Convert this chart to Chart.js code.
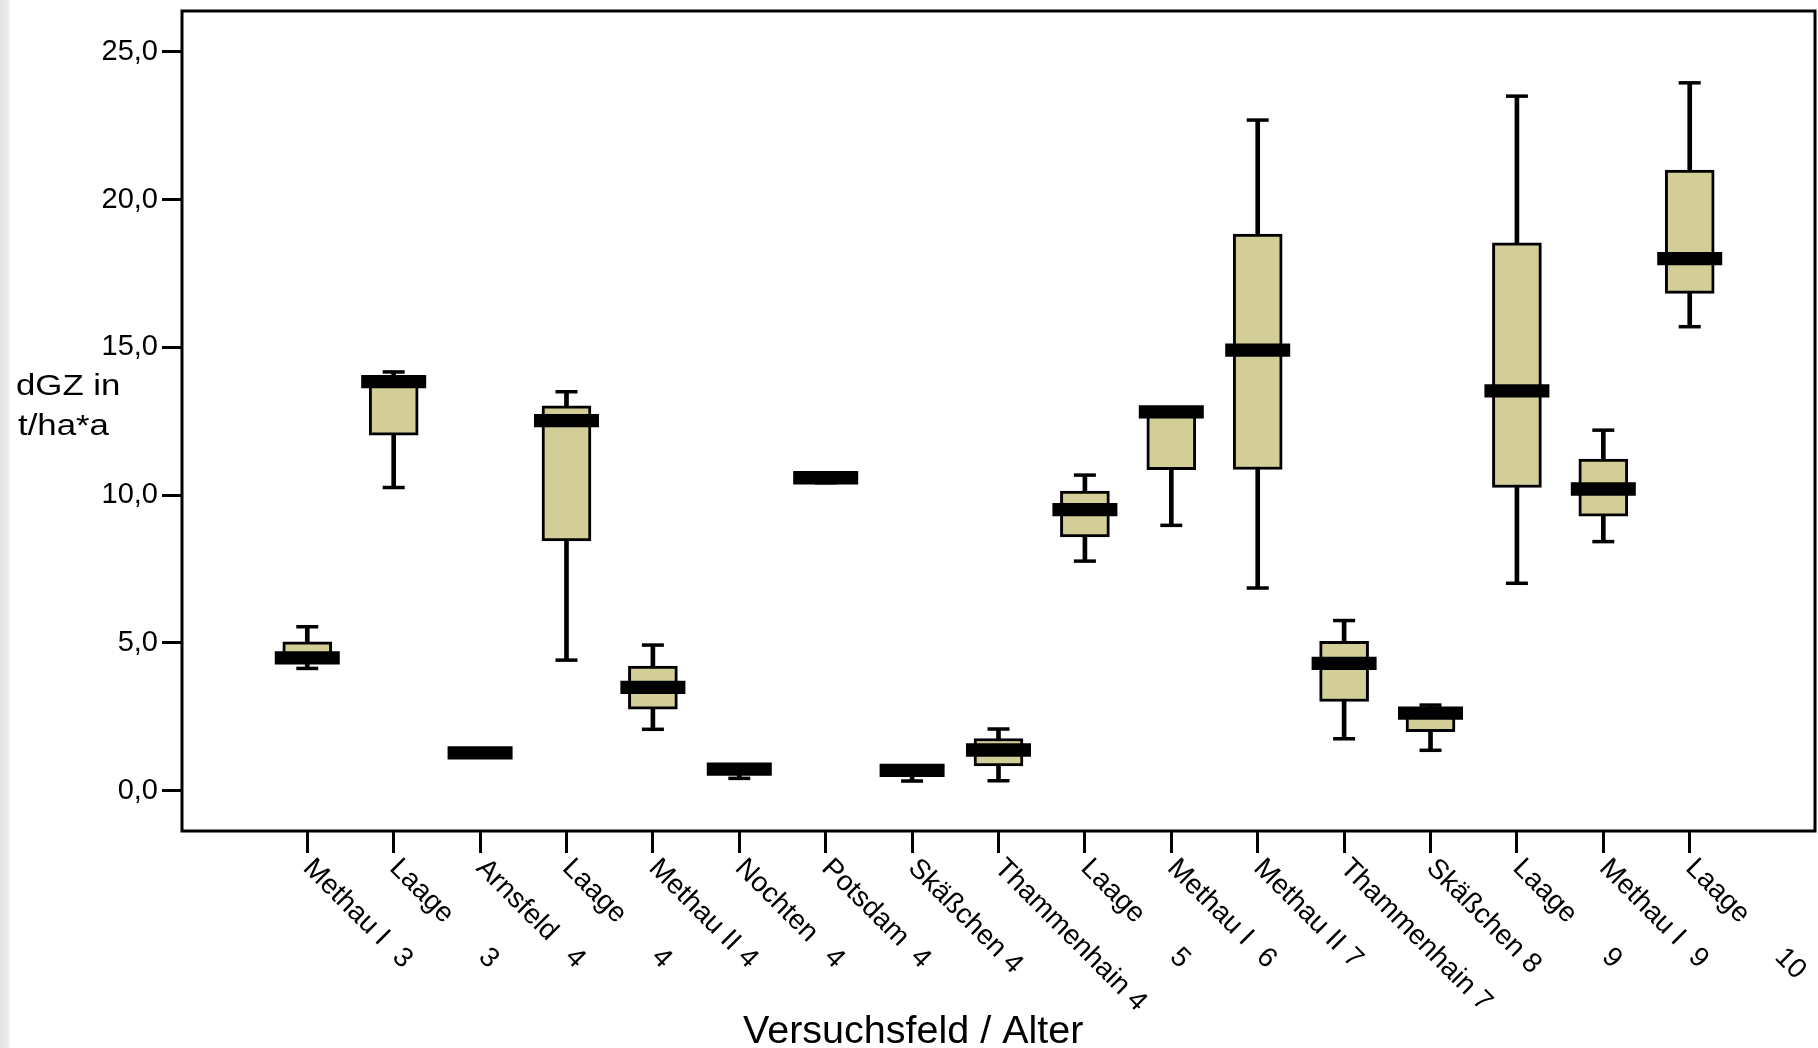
<!DOCTYPE html>
<html>
<head>
<meta charset="utf-8">
<script src="https://cdn.jsdelivr.net/npm/chart.js@4"></script>
<style>
  html, body { margin: 0; padding: 0; background: #fff; }
  #wrap { position: relative; width: 1818px; height: 1048px; }
  #band { position: absolute; left: 0; top: 0; width: 10px; height: 100%;
          background: linear-gradient(to right, #e4e4e4, #ececec 8px, #f8f8f8); }
  canvas { position: absolute; left: 0; top: 0; }
</style>
</head>
<body>
<div id="wrap">
  <div id="band"></div>
  <canvas id="boxChart"></canvas>
</div>
<script>
/* DATEN */
const categories = ["Methau I", "Laage", "Arnsfeld", "Laage", "Methau II", "Nochten", "Potsdam", "Skäßchen",
  "Thammenhain", "Laage", "Methau I", "Methau II", "Thammenhain", "Skäßchen", "Laage", "Methau I", "Laage"];
const ages = [3, 3, 4, 4, 4, 4, 4, 4, 4, 5, 6, 7, 7, 8, 9, 9, 10];

const minValues    = [4.14, 10.26, 1.18, 4.42, 2.08, 0.42, 10.42, 0.33, 0.34, 7.77, 8.98, 6.86, 1.76, 1.37, 7.02, 8.43, 15.70];
const q1Values     = [4.30, 12.03, 1.22, 8.45, 2.76, 0.60, 10.50, 0.55, 0.84, 8.59, 10.86, 10.87, 3.02, 2.00, 10.26, 9.29, 16.83];
const medianValues = [4.50, 13.84, 1.28, 12.52, 3.50, 0.73, 10.59, 0.69, 1.38, 9.51, 12.82, 14.91, 4.31, 2.63, 13.53, 10.21, 18.00];
const q3Values     = [5.04, 13.95, 1.33, 13.02, 4.22, 0.80, 10.65, 0.75, 1.77, 10.14, 12.90, 18.83, 5.06, 2.80, 18.54, 11.22, 21.00];
const maxValues    = [5.55, 14.17, 1.36, 13.50, 4.93, 0.85, 10.70, 0.80, 2.09, 10.68, 12.90, 22.69, 5.76, 2.90, 23.50, 12.20, 23.95];

const yTicks = [0, 5, 10, 15, 20, 25];

const FONT = '"Liberation Sans", Arial, Helvetica, sans-serif';
const boxColor = "#d3ce97";

/* TEXTE (Achsenbeschriftung, Rahmen) */
const extras = {
  id: "extras",
  afterDraw(chart) {
    const { ctx, chartArea: a, scales: { x } } = chart;
    ctx.save();
    ctx.strokeStyle = "#000";
    ctx.lineWidth = 3;
    ctx.strokeRect(a.left, a.top, a.right - a.left, a.bottom - a.top);

    ctx.fillStyle = "#000";
    ctx.textBaseline = "alphabetic";
    ctx.textAlign = "left";

    // Kategorien, 45 Grad nach rechts unten
    const size = 28;
    ctx.font = size + "px " + FONT;
    categories.forEach((name, i) => {
      const px = x.getPixelForValue(i);
      ctx.save();
      ctx.translate(px + 9, a.bottom + 24);
      ctx.rotate(Math.PI / 4);
      ctx.fillText(name, 0, size * 0.716);
      const w = ctx.measureText(name + " ").width;
      ctx.fillText(String(ages[i]), Math.max(126, w), size * 0.716);
      ctx.restore();
    });

    // y-Titel
    ctx.font = "30px " + FONT;
    ctx.save();
    ctx.translate(16, 395);
    ctx.scale(1.16, 1);
    ctx.fillText("dGZ in", 0, 0);
    ctx.restore();
    ctx.save();
    ctx.translate(18, 435);
    ctx.scale(1.16, 1);
    ctx.fillText("t/ha*a", 0, 0);
    ctx.restore();

    // x-Titel
    ctx.font = "38px " + FONT;
    ctx.save();
    ctx.translate(743, 1043);
    ctx.scale(1.04, 1);
    ctx.fillText("Versuchsfeld / Alter", 0, 0);
    ctx.restore();

    ctx.restore();
  }
};

const idx = categories.map((c, i) => i);

new Chart(document.getElementById("boxChart"), {
  type: "bar",
  data: {
    datasets: [
      {
        type: "scatter",
        order: 0,
        data: idx.map(i => ({ x: i, y: medianValues[i] })),
        pointStyle: "line",
        pointRadius: 32.5,
        pointHoverRadius: 32.5,
        pointBorderWidth: 13.3,
        pointHoverBorderWidth: 13.3,
        pointBorderColor: "#000"
      },
      {
        order: 1,
        data: idx.map(i => ({ x: i, y: [q1Values[i], q3Values[i]] })),
        backgroundColor: boxColor,
        borderColor: "#000",
        borderWidth: 3,
        borderSkipped: false,
        barThickness: 49,
        grouped: false
      },
      {
        type: "scatter",
        order: 2,
        data: idx.map(i => ({ x: i, y: minValues[i] }))
          .concat(idx.map(i => ({ x: i, y: maxValues[i] }))),
        pointStyle: "line",
        pointRadius: 11,
        pointHoverRadius: 11,
        pointBorderWidth: 3.5,
        pointHoverBorderWidth: 3.5,
        pointBorderColor: "#000"
      },
      {
        order: 3,
        data: idx.map(i => ({ x: i, y: [minValues[i], maxValues[i]] })),
        backgroundColor: "#000",
        borderWidth: 0,
        barThickness: 4,
        grouped: false
      }
    ]
  },
  options: {
    responsive: true,
    maintainAspectRatio: false,
    devicePixelRatio: 1,
    animation: false,
    layout: { autoPadding: false, padding: { left: 62, right: 3, top: 11, bottom: 0 } },
    plugins: { legend: { display: false }, tooltip: { enabled: false } },
    scales: {
      x: {
        type: "linear",
        min: -1.45,
        max: 17.45,
        offset: false,
        border: { display: false },
        grid: { offset: false, drawOnChartArea: false, drawTicks: true, tickLength: 22, tickWidth: 3, tickColor: "#000", color: "#000", lineWidth: 3 },
        ticks: { display: false },
        afterBuildTicks: axis => { axis.ticks = idx.map(i => ({ value: i })); },
        afterFit: s => { s.height = 217; s.paddingLeft = 0; s.paddingRight = 0; }
      },
      y: {
        type: "linear",
        min: -1.36,
        max: 26.38,
        border: { display: false },
        grid: { offset: false, drawOnChartArea: false, drawTicks: true, tickLength: 20, tickWidth: 3, tickColor: "#000", color: "#000", lineWidth: 3 },
        ticks: {
          padding: 4,
          color: "#000",
          font: { family: FONT, size: 29 },
          callback: v => v.toFixed(1).replace(".", ",")
        },
        afterBuildTicks: axis => { axis.ticks = yTicks.map(v => ({ value: v })); },
        afterFit: s => { s.width = 120; s.paddingTop = 0; s.paddingBottom = 0; }
      }
    }
  },
  plugins: [extras]
});
</script>
</body>
</html>
